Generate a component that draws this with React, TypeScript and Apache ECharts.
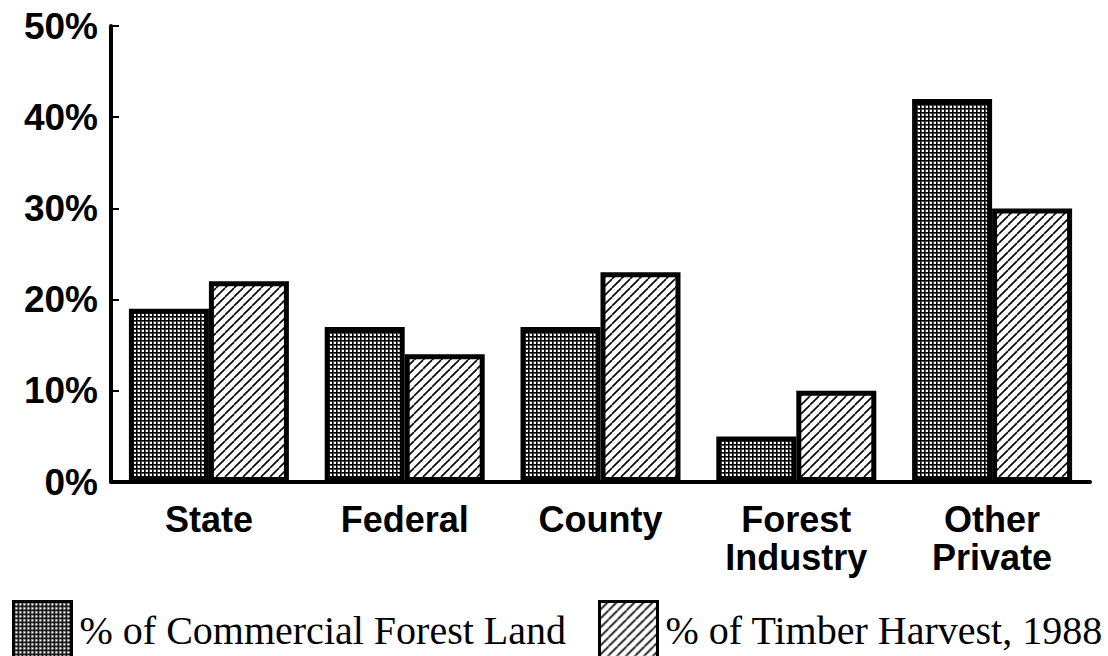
import React, { useEffect, useRef } from "react";
import * as echarts from "echarts";

const categories = ["State", "Federal", "County", "Forest\nIndustry", "Other\nPrivate"];
const commercialLand = [19, 17, 17, 5, 42];
const timberHarvest = [22, 14, 23, 10, 30];
const seriesNames = ["% of Commercial Forest Land", "% of Timber Harvest, 1988"];

function makeGridPattern() {
  const s = 4;
  const c = document.createElement("canvas");
  c.width = s;
  c.height = s;
  const ctx = c.getContext("2d")!;
  ctx.fillStyle = "#fff";
  ctx.fillRect(0, 0, s, s);
  ctx.fillStyle = "#555";
  ctx.fillRect(0, 1, s, 1);
  ctx.fillRect(1, 0, 1, s);
  ctx.fillStyle = "#000";
  ctx.fillRect(0, 0, s, 1);
  ctx.fillRect(0, 0, 1, s);
  return { image: c.toDataURL(), repeat: "repeat", imageWidth: s, imageHeight: s };
}

function makeDiagPattern() {
  const s = 9;
  const c = document.createElement("canvas");
  c.width = s;
  c.height = s;
  const ctx = c.getContext("2d")!;
  ctx.fillStyle = "#fff";
  ctx.fillRect(0, 0, s, s);
  ctx.strokeStyle = "#000";
  ctx.lineWidth = 1.6;
  for (const k of [-s, 0, s]) {
    ctx.beginPath();
    ctx.moveTo(k, s);
    ctx.lineTo(k + s, 0);
    ctx.stroke();
  }
  return { image: c.toDataURL(), repeat: "repeat", imageWidth: s, imageHeight: s };
}

export default function App() {
  const ref = useRef<HTMLDivElement>(null);
  useEffect(() => {
    if (!ref.current) return;
    const chart = echarts.init(ref.current, undefined, { renderer: "svg" });
    const gridPat = makeGridPattern();
    const diagPat = makeDiagPattern();
    const axisFont = {
      fontFamily: "Liberation Sans",
      fontWeight: "bold" as const,
      fontSize: 37,
      color: "#000",
    };
    const legendBase = {
      top: 595,
      itemWidth: 58,
      itemHeight: 57,
      icon: "rect",
      selectedMode: false,
      textStyle: {
        fontFamily: "Liberation Serif",
        fontSize: 40,
        color: "#000",
        padding: [16, 0, 0, 3],
      },
      itemStyle: { borderColor: "#000", borderWidth: 3 },
    };
    chart.setOption({
      animation: false,
      backgroundColor: "#fff",
      grid: { left: 111, right: 18, top: 26, bottom: 174 },
      legend: [
        { ...legendBase, left: 7, data: [seriesNames[0]] },
        { ...legendBase, left: 593, data: [seriesNames[1]] },
      ],
      xAxis: {
        type: "category",
        data: categories,
        axisLine: { show: true, lineStyle: { color: "#000", width: 4 } },
        axisTick: { show: false },
        axisLabel: { ...axisFont, fontSize: 36, interval: 0, lineHeight: 38, margin: 18 },
      },
      yAxis: {
        type: "value",
        min: 0,
        max: 50,
        interval: 10,
        splitLine: { show: false },
        axisLine: { show: true, lineStyle: { color: "#000", width: 4 } },
        axisTick: { show: true, inside: true, length: 8, lineStyle: { color: "#000", width: 2 } },
        axisLabel: { ...axisFont, margin: 13, formatter: "{value}%" },
      },
      series: [
        {
          name: seriesNames[0],
          type: "bar",
          data: commercialLand,
          barWidth: 80,
          barGap: "0%",
          itemStyle: { color: gridPat, borderColor: "#000", borderWidth: 5 },
        },
        {
          name: seriesNames[1],
          type: "bar",
          data: timberHarvest,
          barWidth: 80,
          barGap: "0%",
          itemStyle: { color: diagPat, borderColor: "#000", borderWidth: 5 },
        },
      ],
    });
    return () => chart.dispose();
  }, []);
  return (
    <div
      ref={ref}
      style={{ position: "fixed", left: 0, top: 0, width: 1108, height: 656, background: "#fff" }}
    />
  );
}
